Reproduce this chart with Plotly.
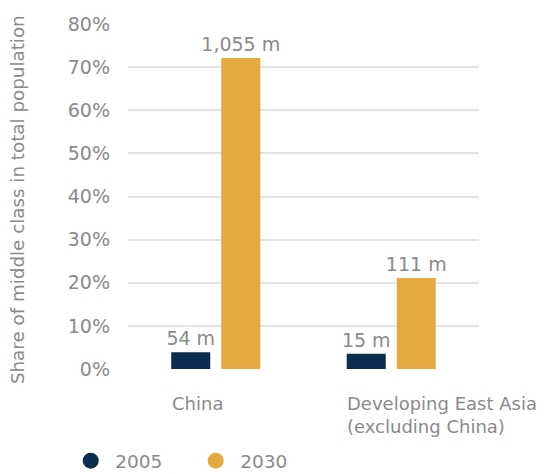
import plotly.graph_objects as go

# Middle-class share of total population, with headcounts
regions = ["China", "Developing East Asia<br>(excluding China)"]
years = ["2005", "2030"]
share_2005 = [0.039, 0.0355]
share_2030 = [0.721, 0.211]
people_2005 = ["54 m", "15 m"]
people_2030 = ["1,055 m", "111 m"]

colors = {"2005": "#0b2d50", "2030": "#e5aa3f"}
font_family = "DejaVu Sans, sans-serif"
grey = "#8a8a8a"

fig = go.Figure()
for year, vals, labels in [("2005", share_2005, people_2005),
                           ("2030", share_2030, people_2030)]:
    fig.add_trace(go.Bar(
        x=regions, y=vals, name=year,
        marker=dict(color=colors[year], line=dict(width=0)),
        text=labels, textposition="outside", cliponaxis=False,
        constraintext="none",
        textfont=dict(size=19, color=grey, family=font_family),
        showlegend=False,
    ))
    # circular legend swatch
    fig.add_trace(go.Scatter(
        x=[None], y=[None], mode="markers", name=year,
        marker=dict(symbol="circle", size=16, color=colors[year]),
    ))

# left-aligned category labels under each group
for r in regions:
    fig.add_annotation(
        x=r, xref="x", y=0, yref="y", yshift=-22, xshift=-46,
        text=r, showarrow=False, xanchor="left", yanchor="top", align="left",
        font=dict(size=18, color=grey, family=font_family),
    )

fig.add_annotation(
    text="Share of middle class in total population",
    xref="paper", yref="paper", x=-0.313, y=0.49, textangle=-90,
    showarrow=False, xanchor="center", yanchor="middle",
    font=dict(size=18.3, color=grey, family=font_family),
)

fig.update_layout(
    width=551, height=474,
    margin=dict(l=128, r=72, t=24, b=105, autoexpand=False),
    paper_bgcolor="white", plot_bgcolor="white",
    barmode="group", bargap=0.43, bargroupgap=0.22,
    font=dict(family=font_family, color=grey),
    legend=dict(orientation="h", x=-0.176, y=-0.212, xanchor="left", yanchor="top",
                font=dict(size=18.5, color=grey), itemsizing="trace",
                entrywidth=71, entrywidthmode="pixels",
                tracegroupgap=0, itemwidth=39),
    xaxis=dict(range=[-0.5, 1.5], showticklabels=False, showgrid=False,
               zeroline=False, showline=False, ticks=""),
    yaxis=dict(range=[0, 0.8], dtick=0.1, tickformat=".0%",
               showgrid=True, gridcolor="#e3e3e3", gridwidth=1.5,
               zeroline=False, showline=False, ticks="",
               tickfont=dict(size=19, color=grey), ticklabelstandoff=17),
)

fig.write_html("out.html")
